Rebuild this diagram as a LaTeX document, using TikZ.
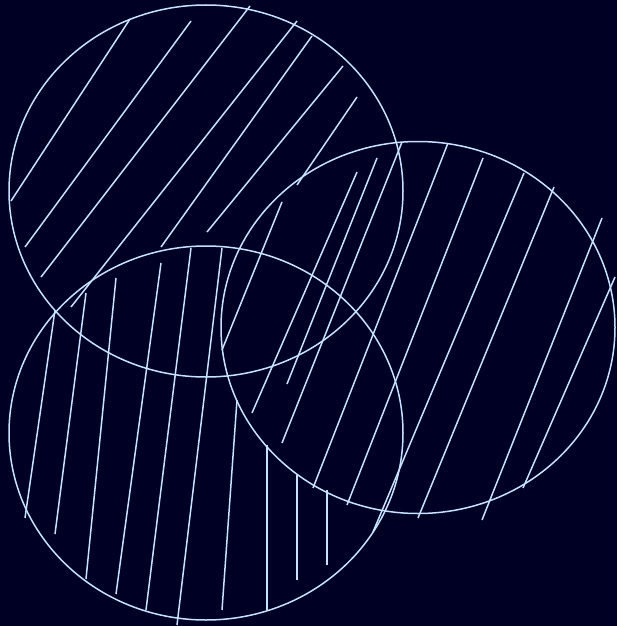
\documentclass[tikz,border=0pt]{standalone}
\definecolor{bgc}{RGB}{0,0,36}
\definecolor{inkc}{RGB}{198,226,255}
\begin{document}
\begin{tikzpicture}[x=1pt,y=-1pt,
  outline/.style={draw=inkc,line width=1.5pt},
  hatch/.style={draw=inkc,line width=1.5pt}]
\useasboundingbox (0,0) rectangle (616,626);
\fill[bgc] (-4,-4) rectangle (620,630);
% ellipses
\draw[outline] (206,191) ellipse [x radius=197, y radius=186];
\draw[outline] (418,327.5) ellipse [x radius=197, y radius=186];
\draw[outline] (206,433) ellipse [x radius=197, y radius=187];
% top ellipse hatching
\draw[hatch] (130,19) -- (11,201);
\draw[hatch] (191,21) -- (25,247);
\draw[hatch] (250,6) -- (41,277);
\draw[hatch] (297,21) -- (71,307);
\draw[hatch] (312,36) -- (161,247);
\draw[hatch] (343,66) -- (207,232);
\draw[hatch] (357,97) -- (297,185);
% right ellipse hatching
\draw[hatch] (282,202) -- (222,350);
\draw[hatch] (357,172) -- (252,413);
\draw[hatch] (377,158) -- (287,384);
\draw[hatch] (402,142) -- (282,443);
\draw[hatch] (448,143) -- (313,488);
\draw[hatch] (483,158) -- (347,505);
\draw[hatch] (524,173) -- (373,532);
\draw[hatch] (554,187) -- (418,518);
\draw[hatch] (602,218) -- (482,520);
\draw[hatch] (615,277) -- (523,488);
% bottom ellipse hatching
\draw[hatch] (55,310) -- (25,518);
\draw[hatch] (86,293) -- (55,534);
\draw[hatch] (116,278) -- (86,579);
\draw[hatch] (161,263) -- (116,594);
\draw[hatch] (191,248) -- (146,610);
\draw[hatch] (222,248) -- (177,625);
\draw[hatch] (237,400) -- (222,610);
\draw[hatch] (267,445) -- (267,610);
\draw[hatch] (297,475) -- (297,580);
\draw[hatch] (327,490) -- (327,565);
\end{tikzpicture}
\end{document}
